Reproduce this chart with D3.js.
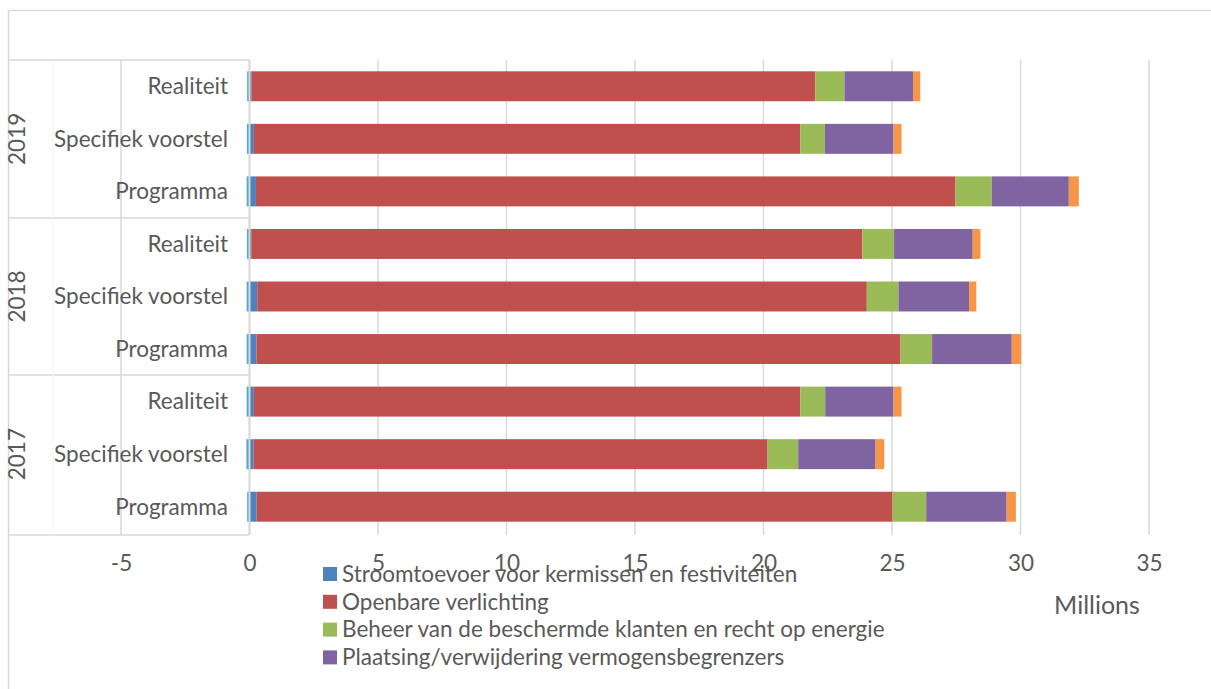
<!DOCTYPE html>
<html>
<head>
<meta charset="utf-8">
<script src="https://cdnjs.cloudflare.com/ajax/libs/d3/7.8.5/d3.min.js"></script>
<style>
	body { margin: 0; background: #fff; }
	text { font-family: Lato, "Open Sans", sans-serif; fill: #595959; }
</style>
</head>
<body>
<div id="graph"></div>
<script>
// rows from top to bottom
var years = ["2019", "2018", "2017"];
var categories = ["Realiteit", "Specifiek voorstel", "Programma"];
var seriesNames = [
	"Stroomtoevoer voor kermissen en festiviteiten",
	"Openbare verlichting",
	"Beheer van de beschermde klanten en recht op energie",
	"Plaatsing/verwijdering vermogensbegrenzers",
	"Overige",
	"Diversen"
];
var colors = ["#4f81bd", "#c0504d", "#9bbb59", "#8064a2", "#4bacc6", "#f79646"];

// values in millions, one entry per row (2019 Realiteit ... 2017 Programma)
var stroom   = [0.08, 0.17, 0.25, 0.07, 0.30, 0.27, 0.17, 0.16, 0.28];
var verlicht = [21.94, 21.26, 27.22, 23.78, 23.72, 25.06, 21.26, 20.00, 24.74];
var beheer   = [1.13, 0.96, 1.41, 1.23, 1.23, 1.23, 0.97, 1.19, 1.31];
var plaatsing= [2.67, 2.67, 3.00, 3.06, 2.75, 3.10, 2.66, 3.01, 3.13];
var overige  = [-0.09, -0.10, -0.11, -0.10, -0.11, -0.11, -0.11, -0.12, -0.09];
var diversen = [0.28, 0.31, 0.39, 0.30, 0.28, 0.37, 0.31, 0.34, 0.36];

var xTicks = [-5, 0, 5, 10, 15, 20, 25, 30, 35];

var W = 1211, H = 689;
var FS = 22.5;

function setup() {
	var svg = d3.select("#graph")
			.append("svg")
			.attr("width", W)
			.attr("height", H);
	// chart border (cropped)
	svg.append("path")
	 .attr("d", "M8.5," + H + "V10.5H" + W)
	 .attr("fill", "none")
	 .attr("stroke", "#d9d9d9")
	 .attr("stroke-width", 1.5);
	return svg;
}

function draw(svg) {
	var rows = [];
	years.forEach(function(y) {
		categories.forEach(function(c) { rows.push(y + "|" + c); });
	});
	var all = [stroom, verlicht, beheer, plaatsing, overige, diversen];

	var x = d3.scaleLinear().domain([-5, 35]).range([121, 1149]);
	var y = d3.scaleBand().domain(rows).range([60, 533]).paddingInner(0.43).paddingOuter(0.215);
	var yOuter = d3.scaleBand().domain(years).range([60, 533]);

	// gridlines
	svg.append("g")
	 .selectAll("line")
	 .data(xTicks)
	 .enter()
	 .append("line")
	 .attr("x1", function(d) { return x(d); })
	 .attr("x2", function(d) { return x(d); })
	 .attr("y1", 60)
	 .attr("y2", 535)
	 .attr("stroke", "#d9d9d9")
	 .attr("stroke-width", 1.5);

	// category label boxes
	var box = svg.append("g").attr("stroke", "#d9d9d9").attr("stroke-width", 1.5);
	[60, 218, 375, 535].forEach(function(v) {
		box.append("line")
		 .attr("x1", 9).attr("x2", x(0))
		 .attr("y1", v).attr("y2", v);
	});
	box.append("line").attr("x1", 53).attr("x2", 53).attr("y1", 60).attr("y2", 535)
	 .attr("stroke", "#f4f4f4").attr("stroke-width", 1);

	// stacked bars, negatives to the left of zero
	var segs = [];
	rows.forEach(function(r, i) {
		var pos = 0, neg = 0;
		all.forEach(function(s, k) {
			var v = s[i];
			var x0, x1;
			if (v >= 0) { x0 = pos; x1 = pos + v; pos = x1; }
			else { x1 = neg; x0 = neg + v; neg = x0; }
			segs.push({ row: r, k: k, x0: x0, x1: x1 });
		});
	});

	svg.append("g")
	 .selectAll("rect")
	 .data(segs)
	 .enter()
	 .append("rect")
	 .attr("x", function(d) { return x(d.x0); })
	 .attr("width", function(d) { return x(d.x1) - x(d.x0); })
	 .attr("y", function(d) { return y(d.row); })
	 .attr("height", y.bandwidth())
	 .attr("fill", function(d) { return colors[d.k]; });

	// zero axis line
	svg.append("line")
	 .attr("x1", x(0)).attr("x2", x(0))
	 .attr("y1", 60).attr("y2", 535)
	 .attr("stroke", "#d9d9d9")
	 .attr("stroke-width", 2);

	// x axis tick labels
	var axis = d3.axisBottom(x)
	 .tickValues(xTicks)
	 .tickFormat(function(d) { return String(d); })
	 .tickSize(0)
	 .tickPadding(0);
	var ax = svg.append("g")
	 .attr("transform", "translate(0,555)")
	 .call(axis);
	ax.select(".domain").remove();
	ax.selectAll("text")
	 .attr("font-size", FS)
	 .style("font-family", "Lato, sans-serif");

	// category labels
	svg.append("g")
	 .selectAll("text")
	 .data(rows)
	 .enter()
	 .append("text")
	 .attr("x", 228)
	 .attr("y", function(d) { return y(d) + y.bandwidth() / 2; })
	 .attr("dy", "0.35em")
	 .attr("text-anchor", "end")
	 .attr("font-size", FS)
	 .text(function(d) { return d.split("|")[1]; });

	// year labels
	svg.append("g")
	 .selectAll("text")
	 .data(years)
	 .enter()
	 .append("text")
	 .attr("transform", function(d) {
		return "translate(17," + (yOuter(d) + yOuter.bandwidth() / 2) + ") rotate(-90)";
	 })
	 .attr("dy", "0.35em")
	 .attr("text-anchor", "middle")
	 .attr("font-size", FS)
	 .text(function(d) { return d; });

	// legend (only first four fit in the crop)
	var leg = svg.append("g")
	 .selectAll("g")
	 .data(seriesNames.slice(0, 4))
	 .enter()
	 .append("g")
	 .attr("transform", function(d, i) { return "translate(323," + (574 + i * 27.8) + ")"; });
	leg.append("rect")
	 .attr("x", 0).attr("y", -7)
	 .attr("width", 14).attr("height", 14)
	 .attr("fill", function(d, i) { return colors[i]; });
	leg.append("text")
	 .attr("x", 19)
	 .attr("dy", "0.35em")
	 .attr("font-size", FS)
	 .text(function(d) { return d; });

	svg.append("text")
	 .attr("x", 1097)
	 .attr("y", 605)
	 .attr("dy", "0.35em")
	 .attr("text-anchor", "middle")
	 .attr("font-size", 25)
	 .text("Millions");
}

var svg = setup();
draw(svg);
</script>
</body>
</html>
